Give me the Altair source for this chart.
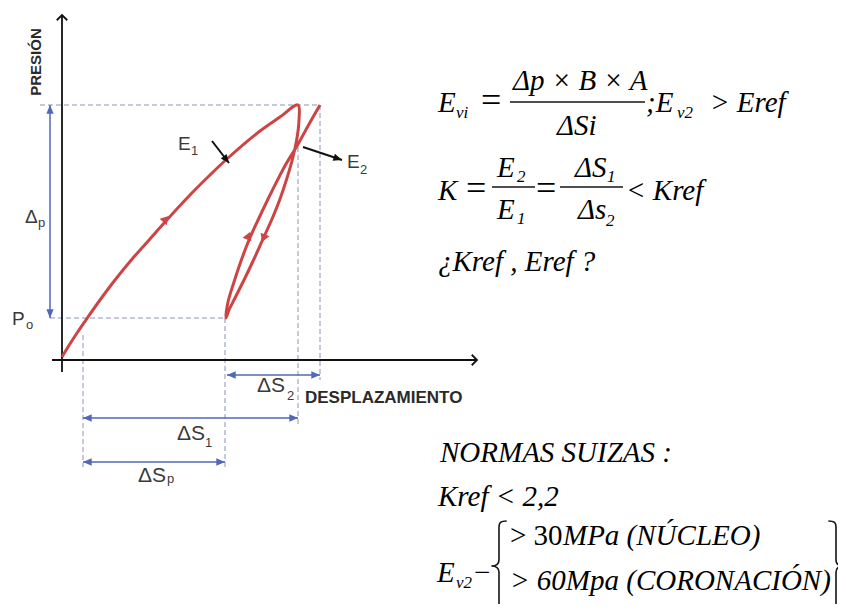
import altair as alt
import pandas as pd

# ---------------- data (diagram units: displacement to the right, pressure up) ----------------
load_s = [0, 6, 15, 26, 38, 53, 71, 88, 103, 128, 148, 166, 198, 218, 236]
load_p = [3, 13, 27, 43, 60, 80, 102, 121, 138, 165, 185, 202, 229, 243, 255]
unload_s = [236, 237, 235, 231, 225, 218, 210, 201, 192, 182, 173, 167, 164]
unload_p = [255, 240, 222, 203, 182, 161, 141, 121, 101, 80, 62, 50, 42]
reload_s = [163, 166, 172, 179, 187, 197, 210, 224, 235, 246, 258]
reload_p = [42, 58, 78, 99, 120, 142, 169, 196, 214, 234, 255]

# key readings of the diagram
P_MAX, P_0, P_CROSS = 255, 42, 213
S_START, S_LOOP, S_CROSS, S_END = 21, 163, 236, 258

# direction marks on the curve
flow_s = [103, 186, 202]
flow_p = [140, 123, 123]
flow_angle = [42, 21, 202]

# dashed guide lines
guide_s = [-22, -12, S_START, S_LOOP, S_CROSS, S_END]
guide_s2 = [S_END, S_LOOP, S_START, S_LOOP, S_CROSS, S_END]
guide_p = [P_MAX, P_0, 25, P_0, P_CROSS, P_MAX]
guide_p2 = [P_MAX, P_0, -107, -110, -67, -20]

# dimension arrows (Δp, ΔS2, ΔS1, ΔSp)
dim_s = [-12, 165, S_START, S_START]
dim_s2 = [-12, S_END, S_CROSS, S_LOOP]
dim_p = [P_MAX, -15, -58, -102]
dim_p2 = [P_0, -15, -58, -102]

# axes
axis_s = [0, -10]
axis_s2 = [0, 415]
axis_p = [-12, 0]
axis_p2 = [345, 0]

# leader arrows to E1 and E2
lead_s = [150, 241]
lead_p = [219, 213]
lead_s2 = [167, 280]
lead_p2 = [197, 200]
lead_angle = [142, 108]

# fraction bars of the formulas
bar_s = [448, 430, 498]
bar_s2 = [583, 473, 561]
bar_p = [258, 173, 173]

# text pieces: (text, s, p) with p at the text baseline
txt_vlabel = [("PRESIÓN", -26, 298)]
txt_sans = [("Δ", -37, 137), ("P", -50, 35), ("E", 116, 210), ("E", 285, 192)]
txt_sans_d = [("ΔS", 195, -32), ("ΔS", 115, -80), ("ΔS", 76, -122)]
txt_sans_sub = [("p", -24, 133), ("o", -36, 31), ("1", 129, 205), ("2", 298, 186),
                ("2", 225, -40), ("1", 143, -87), ("p", 105, -123)]
txt_sans_bold = [("DESPLAZAMIENTO", 243, -43)]
txt_serif_it = [("E", 376, 248), ("Δp × B × A", 451, 270), ("ΔSi", 495, 225),
                (";E", 584, 248), ("> Eref", 648, 248),
                ("K", 376, 160), ("E", 435, 183), ("E", 435, 141), ("ΔS", 513, 183),
                ("Δs", 516, 141), ("< Kref", 564, 160),
                ("¿Kref ,  Eref  ?", 376, 89),
                ("NORMAS SUIZAS :", 378, -102), ("Kref < 2,2", 376, -146),
                ("E", 375, -222), ("MPa (NÚCLEO)", 501, -185),
                ("> 60Mpa (CORONACIÓN)", 448, -230)]
txt_serif_eq = [("=", 419, 248), ("=", 404, 160), ("=", 474, 160)]
txt_serif = [("−", 412, -222), ("> 30", 448, -185)]
txt_serif_sub = [("vi", 394, 242), ("v2", 615, 242), ("2", 455, 178), ("1", 455, 136),
                 ("1", 545, 178), ("2", 544, 134), ("v2", 394, -228)]

# braces
brace_s = [437, 774]
brace_p = [-206, -206]

# ---------------- build ----------------
xs = alt.Scale(domain=[-54, 776], nice=False, zero=False)
ys = alt.Scale(domain=[-244, 352], nice=False, zero=False)

SERIF = "Liberation Serif"
SANS = "Liberation Sans"


def X(f):
    return alt.X(f, type="quantitative", scale=xs, axis=None)


def Y(f):
    return alt.Y(f, type="quantitative", scale=ys, axis=None)


curve = pd.DataFrame({
    "s": load_s + unload_s[1:] + reload_s[1:],
    "p": load_p + unload_p[1:] + reload_p[1:],
})
curve["o"] = range(len(curve))

flow = pd.DataFrame({"s": flow_s, "p": flow_p, "a": flow_angle})
guides = pd.DataFrame({"s": guide_s, "s2": guide_s2, "p": guide_p, "p2": guide_p2})
dims = pd.DataFrame({"s": dim_s, "s2": dim_s2, "p": dim_p, "p2": dim_p2})

heads = []
for s, s2, p, p2 in zip(dim_s, dim_s2, dim_p, dim_p2):
    if s == s2:
        heads.append({"s": s, "p": p, "a": 0})
        heads.append({"s": s2, "p": p2, "a": 180})
    else:
        heads.append({"s": s, "p": p, "a": 270})
        heads.append({"s": s2, "p": p2, "a": 90})
heads = pd.DataFrame(heads)

axes = pd.DataFrame({"s": axis_s, "s2": axis_s2, "p": axis_p, "p2": axis_p2})
axis_tips = pd.DataFrame({"s": [axis_s2[0], axis_s2[1]], "p": [axis_p2[0], axis_p2[1]], "a": [0, 90]})
leads = pd.DataFrame({"s": lead_s, "p": lead_p, "s2": lead_s2, "p2": lead_p2, "a": lead_angle})
bars = pd.DataFrame({"s": bar_s, "s2": bar_s2, "p": bar_p})

ARROW = "M 0 0 L 0.42 1 L -0.42 1 Z"
CHEVRON = "M -1 1 L 0 0 L 1 1"
LBRACE = ("M 0.17 -1 C 0.03 -1 0 -0.96 0 -0.86 L 0 -0.14 C 0 -0.05 -0.06 0 -0.17 0 "
          "C -0.06 0 0 0.05 0 0.14 L 0 0.86 C 0 0.96 0.03 1 0.17 1")
RBRACE = ("M -0.17 -1 C -0.03 -1 0 -0.96 0 -0.86 L 0 -0.14 C 0 -0.05 0.06 0 0.17 0 "
          "C 0.06 0 0 0.05 0 0.14 L 0 0.86 C 0 0.96 -0.03 1 -0.17 1")

RED = "#cc4444"
BLUE = "#5068b8"
GUIDE = "#8a93b8"
INK = "#151515"

layers = []

# guides
layers.append(alt.Chart(guides).mark_rule(color=GUIDE, strokeWidth=1, strokeDash=[5, 3]).encode(
    x=X("s"), x2="s2", y=Y("p"), y2="p2"))

# axes
layers.append(alt.Chart(axes).mark_rule(color="#111111", strokeWidth=1.8).encode(
    x=X("s"), x2="s2", y=Y("p"), y2="p2"))
layers.append(alt.Chart(axis_tips).mark_point(shape=CHEVRON, size=110, filled=False,
                                               color="#111111", strokeWidth=1.8, opacity=1).encode(
    x=X("s"), y=Y("p"), angle=alt.Angle("a:Q", scale=None)))

# dimension arrows
layers.append(alt.Chart(dims).mark_rule(color=BLUE, strokeWidth=1.5).encode(
    x=X("s"), x2="s2", y=Y("p"), y2="p2"))
layers.append(alt.Chart(heads).mark_point(shape=ARROW, size=300, filled=True,
                                          color=BLUE, opacity=1).encode(
    x=X("s"), y=Y("p"), angle=alt.Angle("a:Q", scale=None)))

# curve
layers.append(alt.Chart(curve).mark_line(color=RED, strokeWidth=3, interpolate="catmull-rom").encode(
    x=X("s"), y=Y("p"), order="o:Q"))
layers.append(alt.Chart(flow).mark_point(shape="triangle", size=90, filled=True,
                                         color=RED, opacity=1).encode(
    x=X("s"), y=Y("p"), angle=alt.Angle("a:Q", scale=None)))

# leader arrows
layers.append(alt.Chart(leads).mark_rule(color="#111111", strokeWidth=2).encode(
    x=X("s"), x2="s2", y=Y("p"), y2="p2"))
layers.append(alt.Chart(leads).mark_point(shape=ARROW, size=300, filled=True,
                                          color="#111111", opacity=1).encode(
    x=X("s2"), y=Y("p2"), angle=alt.Angle("a:Q", scale=None)))

# fraction bars
layers.append(alt.Chart(bars).mark_rule(color=INK, strokeWidth=1.6).encode(
    x=X("s"), x2="s2", y=Y("p")))

# braces
layers.append(alt.Chart(pd.DataFrame({"s": [brace_s[0]], "p": [brace_p[0]]})).mark_point(
    shape=LBRACE, size=8100, filled=False, color=INK, strokeWidth=1.6, opacity=1).encode(
    x=X("s"), y=Y("p")))
layers.append(alt.Chart(pd.DataFrame({"s": [brace_s[1]], "p": [brace_p[1]]})).mark_point(
    shape=RBRACE, size=8100, filled=False, color=INK, strokeWidth=1.6, opacity=1).encode(
    x=X("s"), y=Y("p")))


def text_layer(items, font, fontSize, **style):
    # positions are baselines; the default "middle" anchor sits 0.3 em above the baseline
    df = pd.DataFrame(items, columns=["t", "s", "p"])
    df["p"] = df["p"] + round(0.3 * fontSize)
    return alt.Chart(df).mark_text(font=font, fontSize=fontSize, align="left", **style).encode(
        x=X("s"), y=Y("p"), text="t:N")


layers.append(alt.Chart(pd.DataFrame(txt_vlabel, columns=["t", "s", "p"])).mark_text(
    font=SANS, fontSize=15, fontWeight="bold", angle=270, align="center",
    color="#2a2a2a").encode(x=X("s"), y=Y("p"), text="t:N"))
layers.append(text_layer(txt_sans, SANS, 19, color="#3a3a3a"))
layers.append(text_layer(txt_sans_d, SANS, 21, color="#3a3a3a"))
layers.append(text_layer(txt_sans_sub, SANS, 13, color="#3a3a3a"))
layers.append(text_layer(txt_sans_bold, SANS, 17, fontWeight="bold", color="#2a2a2a"))
layers.append(text_layer(txt_serif_it, SERIF, 29, fontStyle="italic"))
layers.append(text_layer(txt_serif_eq, SERIF, 36))
layers.append(text_layer(txt_serif, SERIF, 29))
layers.append(text_layer(txt_serif_sub, SERIF, 17, fontStyle="italic"))

chart = alt.layer(*layers).properties(
    width=830, height=596,
    autosize=alt.AutoSizeParams(type="none"),
    padding=0,
    background="white",
).configure_view(stroke=None)

chart.save("out.html", embed_options={"renderer": "svg", "actions": False})
